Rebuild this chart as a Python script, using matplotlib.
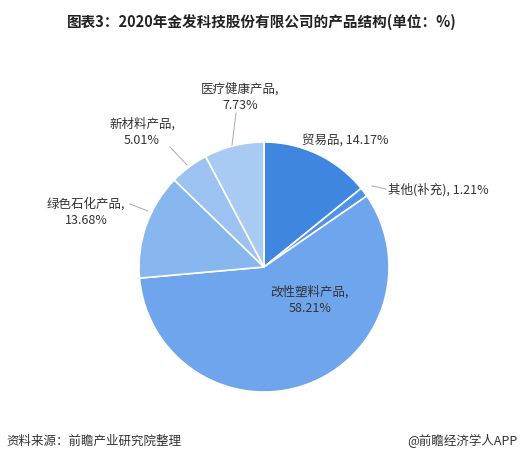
import matplotlib.pyplot as plt

plt.rcParams['font.family'] = ['Noto Sans CJK SC', 'DejaVu Sans']

labels = ['贸易品', '其他(补充)', '改性塑料产品', '绿色石化产品', '新材料产品', '医疗健康产品']
values = [14.17, 1.21, 58.21, 13.68, 5.01, 7.73]
colors = ['#3f86e0', '#4f93e6', '#6ea5ec', '#88b6ef', '#9cc2f1', '#a9cbf3']

H = 464
fig = plt.figure(figsize=(5.24, 4.64), dpi=100)
ax = fig.add_axes([0, 0, 1, 1])
ax.set_xlim(0, 524)
ax.set_ylim(0, H)
ax.axis('off')

cx, cy, r = 264, H - 268, 125
ax.pie(values, colors=colors, startangle=90, counterclock=False,
       center=(cx, cy), radius=r, wedgeprops=dict(edgecolor='white', linewidth=1.2),
       frame=True)
ax.set_xlim(0, 524)
ax.set_ylim(0, H)
ax.axis('off')

fs = 9
tc = '#333333'
# inside labels
ax.text(345, H - 140, f'{labels[0]}, {values[0]:.2f}%', fontsize=fs, ha='center', va='center', color=tc)
ax.text(310, H - 300, f'{labels[2]},\n{values[2]:.2f}%', fontsize=fs, ha='center', va='center', color=tc, linespacing=1.4)
# outside labels with leader lines
ax.text(388, H - 190, f'{labels[1]}, {values[1]:.2f}%', fontsize=fs, ha='left', va='center', color=tc)
ax.plot([372, 386], [H - 187, H - 190], color='#aaaaaa', lw=0.7)
ax.text(86, H - 212, f'{labels[3]},\n{values[3]:.2f}%', fontsize=fs, ha='center', va='center', color=tc, linespacing=1.4)
ax.plot([130, 148], [H - 205, H - 212], color='#aaaaaa', lw=0.7)
ax.text(142, H - 132, f'{labels[4]},\n{values[4]:.2f}%', fontsize=fs, ha='center', va='center', color=tc, linespacing=1.4)
ax.plot([170, 187], [H - 148, H - 166], color='#aaaaaa', lw=0.7)
ax.text(240, H - 97, f'{labels[5]},\n{values[5]:.2f}%', fontsize=fs, ha='center', va='center', color=tc, linespacing=1.4)
ax.plot([236, 232], [H - 114, H - 146], color='#aaaaaa', lw=0.7)

ax.text(262, H - 22, '图表3：2020年金发科技股份有限公司的产品结构(单位：%)', fontsize=10.5,
        fontweight='bold', ha='center', va='center', color='#222222')
ax.text(6, H - 441, '资料来源：前瞻产业研究院整理', fontsize=9, ha='left', va='center', color=tc)
ax.text(518, H - 441, '@前瞻经济学人APP', fontsize=9, ha='right', va='center', color=tc)

fig.savefig('out.png', dpi=100)
